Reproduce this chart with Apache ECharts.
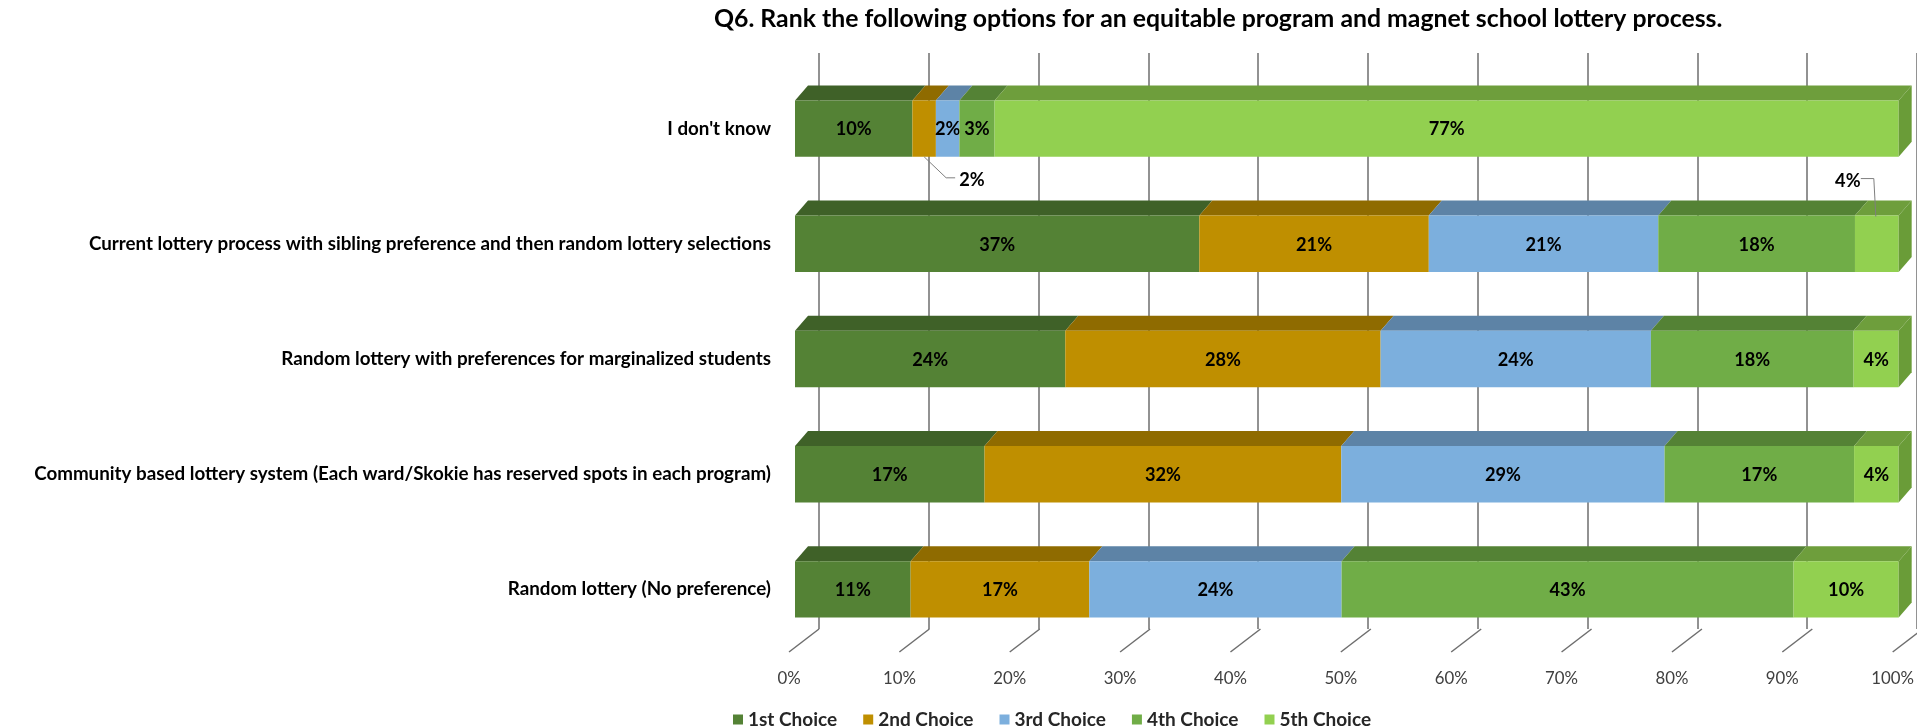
<!DOCTYPE html>
<html>
<head>
<meta charset="utf-8">
<script src="https://cdn.jsdelivr.net/npm/echarts@6/dist/echarts.min.js"></script>
<style>
html,body{margin:0;padding:0;background:#fff;}
#chart{width:1917px;height:726px;}
</style>
</head>
<body>
<div id="chart"></div>
<script>
// ---------------- data ----------------
const chartTitle = 'Q6. Rank the following options for an equitable program and magnet school lottery process.';
const categories = [
  "I don't know",
  'Current lottery process with sibling preference and then random lottery selections',
  'Random lottery with preferences for marginalized students',
  'Community based lottery system (Each ward/Skokie has reserved spots in each program)',
  'Random lottery (No preference)'
];
const choiceNames = ['1st Choice', '2nd Choice', '3rd Choice', '4th Choice', '5th Choice'];
const choice1 = [10, 37, 24, 17, 11];
const choice2 = [2, 21, 28, 32, 17];
const choice3 = [2, 21, 24, 29, 24];
const choice4 = [3, 18, 18, 17, 43];
const choice5 = [77, 4, 4, 4, 10];
const tickValues = [0, 10, 20, 30, 40, 50, 60, 70, 80, 90, 100];
const tickLabels = ['0%', '10%', '20%', '30%', '40%', '50%', '60%', '70%', '80%', '90%', '100%'];

// ---------------- style ----------------
const FRONT = ['#548235', '#bf8f00', '#7cafdd', '#70ad47', '#92d050'];
const TOP   = ['#3f6128', '#8f6b00', '#5d83a6', '#548235', '#6e9e3c'];
const SIDE  = ['#3f6128', '#8f6b00', '#5d83a6', '#548235', '#6a9c38'];
const DX = 13, DY = 15;           // 3D depth offset of the bars
const BACK_DX = 24;               // back wall offset
const FONT = 'Lato';

const cv = document.createElement('canvas').getContext('2d');
function fit(text, weight, target) {
  cv.font = weight + ' 100px ' + FONT;
  return Math.round(100 * target / cv.measureText(text).width * 10) / 10;
}
const titleSize = fit(chartTitle, 'bold', 1010);
const catSize = fit(categories[1], 'bold', 683);
const dataSize = fit('37%', 'bold', 36);
const axisSize = fit('10%', 'normal', 33);
const legendSize = fit('1st Choice', 'bold', 89);

// callout labels (series index - category index)
const callouts = {
  '1-0': {anchor: 'bottom', text: [35, 23], align: 'left', line: [[0, 0], [22, 21], [31, 21]]},
  '4-1': {anchor: 'top', text: [-29, -34], align: 'center', line: [[-1, 1], [-3, -37], [-16, -37]]}
};

// 100% stacking
const values = [choice1, choice2, choice3, choice4, choice5];
const totals = categories.map((_, i) => values.reduce((s, a) => s + a[i], 0));
const segData = values.map((arr, k) => arr.map((v, i) => {
  const before = values.slice(0, k).reduce((s, a) => s + a[i], 0);
  return [i, before / totals[i] * 100, (before + v) / totals[i] * 100, v];
}));

function makeRender(k) {
  return function (params, api) {
    const cat = api.value(0);
    const p0 = api.coord([api.value(1), cat]);
    const p1 = api.coord([api.value(2), cat]);
    const bh = api.size([0, 1])[1] * 0.49;
    const x0 = p0[0], x1 = p1[0], yT = p0[1] - bh / 2, yB = p0[1] + bh / 2;
    const children = [];
    children.push({type: 'polygon', shape: {points: [[x0, yT], [x1, yT], [x1 + DX, yT - DY], [x0 + DX, yT - DY]]}, style: {fill: TOP[k]}});
    children.push({type: 'rect', shape: {x: x0, y: yT, width: x1 - x0, height: bh}, style: {fill: FRONT[k]}});
    if (k === values.length - 1) {
      children.push({type: 'polygon', shape: {points: [[x1, yT], [x1 + DX, yT - DY], [x1 + DX, yB - DY], [x1, yB]]}, style: {fill: SIDE[k]}});
    }
    const txt = api.value(3) + '%';
    const font = 'bold ' + dataSize + 'px ' + FONT;
    const co = callouts[k + '-' + cat];
    const cx = (x0 + x1) / 2;
    if (co) {
      const ay = co.anchor === 'bottom' ? yB : yT;
      children.push({type: 'polyline', shape: {points: co.line.map(p => [cx + p[0], ay + p[1]])}, style: {stroke: '#7f7f7f', lineWidth: 1, fill: null}});
      children.push({type: 'text', style: {text: txt, x: cx + co.text[0], y: ay + co.text[1], font: font, fill: '#000', align: co.align, verticalAlign: 'middle'}});
    } else {
      children.push({type: 'text', style: {text: txt, x: cx, y: p0[1] + 1, font: font, fill: '#000', align: 'center', verticalAlign: 'middle'}});
    }
    return {type: 'group', children: children};
  };
}

const series = choiceNames.map((name, k) => ({
  name: name,
  type: 'custom',
  xAxisIndex: 0, yAxisIndex: 0,
  itemStyle: {color: FRONT[k]},
  renderItem: makeRender(k),
  encode: {x: [1, 2], y: 0},
  data: segData[k],
  z: 10 + k
}));

// floor ticks (diagonal lines)
series.push({
  type: 'custom',
  xAxisIndex: 0, yAxisIndex: 0,
  silent: true,
  renderItem: function (params, api) {
    const x = api.coord([api.value(0), 0])[0];
    const bottom = params.coordSys.y + params.coordSys.height;
    return {type: 'line', shape: {x1: x + BACK_DX, y1: bottom - 18, x2: x - 6, y2: bottom + 5}, style: {stroke: '#6e6e6e', lineWidth: 1.5}};
  },
  encode: {x: 0},
  data: tickValues.map(v => [v]),
  z: 1
});

const chart = echarts.init(document.getElementById('chart'), null, {renderer: 'canvas'});
chart.setOption({
  animation: false,
  backgroundColor: '#fff',
  color: FRONT,
  title: {
    text: chartTitle,
    left: 1219 - 505, top: 21 - titleSize * 0.6, padding: 0,
    textStyle: {fontFamily: FONT, fontWeight: 'bold', fontSize: titleSize, color: '#000'}
  },
  legend: {
    data: choiceNames,
    left: 728, top: 705,
    icon: 'rect', itemWidth: 10, itemHeight: 10, itemGap: 26,
    textStyle: {fontFamily: FONT, fontWeight: 'bold', fontSize: legendSize, color: '#262626'}
  },
  grid: [
    {left: 795, top: 71, width: 1115, height: 576},
    {left: 795 + BACK_DX, top: 53, width: 1115, height: 576}
  ],
  xAxis: [
    {
      type: 'value', gridIndex: 0, min: 0, max: 100, interval: 10,
      axisLine: {show: false}, axisTick: {show: false}, splitLine: {show: false},
      axisLabel: {
        margin: 23, padding: [0, 12, 0, 0],
        fontFamily: FONT, fontSize: axisSize, color: '#404040',
        formatter: v => tickLabels[tickValues.indexOf(v)]
      }
    },
    {
      type: 'value', gridIndex: 1, min: 0, max: 100, interval: 10,
      axisLine: {show: false}, axisTick: {show: false}, axisLabel: {show: false},
      splitLine: {show: true, lineStyle: {color: '#6e6e6e', width: 1.5}}
    }
  ],
  yAxis: [
    {
      type: 'category', gridIndex: 0, data: categories, inverse: true,
      axisLine: {show: false}, axisTick: {show: false}, splitLine: {show: false},
      axisLabel: {
        interval: 0, margin: 24, padding: [0, 0, 64, 0],
        fontFamily: FONT, fontWeight: 'bold', fontSize: catSize, color: '#000'
      }
    },
    {
      type: 'value', gridIndex: 1, show: false
    }
  ],
  series: series
});
</script>
</body>
</html>
